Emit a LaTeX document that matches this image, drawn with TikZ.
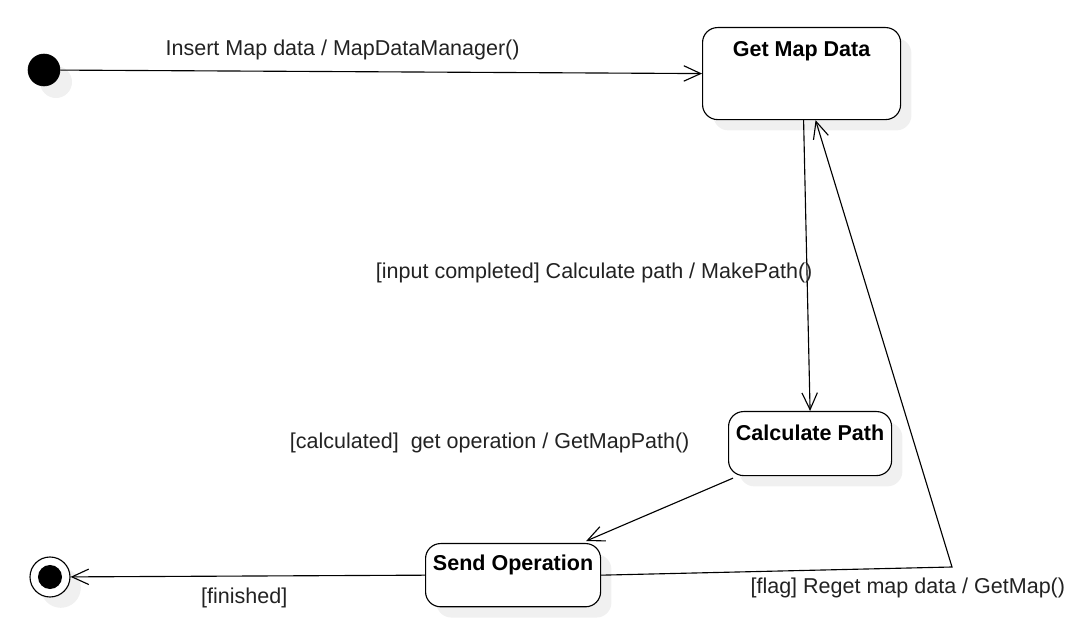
\documentclass[tikz,border=0pt]{standalone}
\usepackage{fontspec}
\setmainfont{Liberation Sans}
\usepackage{tikz}
\usetikzlibrary{arrows.meta, calc, shadows}
\definecolor{lineColor}{RGB}{0, 0, 0}
\definecolor{textColor}{RGB}{34, 34, 34}
\definecolor{shadowColor}{RGB}{240, 240, 240}
\tikzset{
    sm_state/.style={
        rectangle,
        rounded corners=0.375cm,
        draw=lineColor,
        line width=0.8pt,
        fill=white,
        drop shadow={shadow xshift=0.27cm, shadow yshift=-0.27cm,
            fill=shadowColor, opacity=1},
        font=\fontsize{15.3}{18}\selectfont\bfseries,
        text=black,
        inner xsep=0pt,
        inner ysep=0pt,
        anchor=north west
    },
    sm_init/.style={
        circle,
        fill=black,
        draw=black,
        minimum size=0.8cm,
        inner sep=0pt,
        drop shadow={shadow xshift=0.3cm, shadow yshift=-0.3cm,
            fill=shadowColor, opacity=1}
    },
    sm_final/.style={
        circle,
        draw=black,
        line width=0.8pt,
        fill=white,
        minimum size=1cm,
        inner sep=0pt,
        drop shadow={shadow xshift=0.27cm, shadow yshift=-0.27cm,
            fill=shadowColor, opacity=1},
        path picture={\fill[black] (path picture bounding box.center) circle (0.3cm);}
    },
    sm_edge/.style={
        -{Straight Barb[length=12pt, width=11pt]},
        line width=0.8pt,
        draw=lineColor
    },
    sm_label/.style={
        font=\fontsize{15.3}{18}\selectfont,
        text=textColor,
        inner sep=0pt
    }
}
\begin{document}
\begin{tikzpicture}[x=0.025cm, y=-0.025cm]
    \useasboundingbox (0,0) rectangle (1088,636);

    \node[sm_init] (start) at (44,70) {};
    \node[sm_state, minimum width=4.95cm, text height=0.72cm, text depth=1.58cm]
        (gmd) at (702,27) {Get Map Data};
    \node[sm_state, minimum width=4.075cm, text height=0.72cm, text depth=0.88cm]
        (cp) at (728,411) {Calculate Path};
    \node[sm_state, minimum width=4.375cm, text height=0.67cm, text depth=0.91cm]
        (so) at (425,543) {Send Operation};
    \node[sm_final] (fin) at (50,577) {};
    \coordinate (flagbend) at (952,567);

    \draw[sm_edge] (start) -- node[sm_label, pos=0.44, shift={(0,-22)}]
        {Insert Map data / MapDataManager()} (gmd.west);
    \draw[sm_edge] ($(gmd.south)+(2,0)$) -- node[sm_label, pos=0.524, anchor=east, shift={(6,0)}]
        {[input completed] Calculate path / MakePath()} (cp.north);
    \draw[sm_edge] ($(cp.south west)+(5,2)$) -- node[sm_label, pos=0, anchor=east, shift={(-43,-35)}]
        {[calculated]\ \ get operation / GetMapPath()} ($(so.north east)+(-15,-2)$);
    \draw[sm_edge] (so.west) -- node[sm_label, pos=0.51, shift={(0,22)}]
        {[finished]} (fin);
    \draw[sm_edge] (so.east) -- node[sm_label, pos=1, anchor=west, shift={(-202,21)}]
        {[flag] Reget map data / GetMap()} (flagbend) -- ($(gmd.south)+(14,0)$);
\end{tikzpicture}
\end{document}
